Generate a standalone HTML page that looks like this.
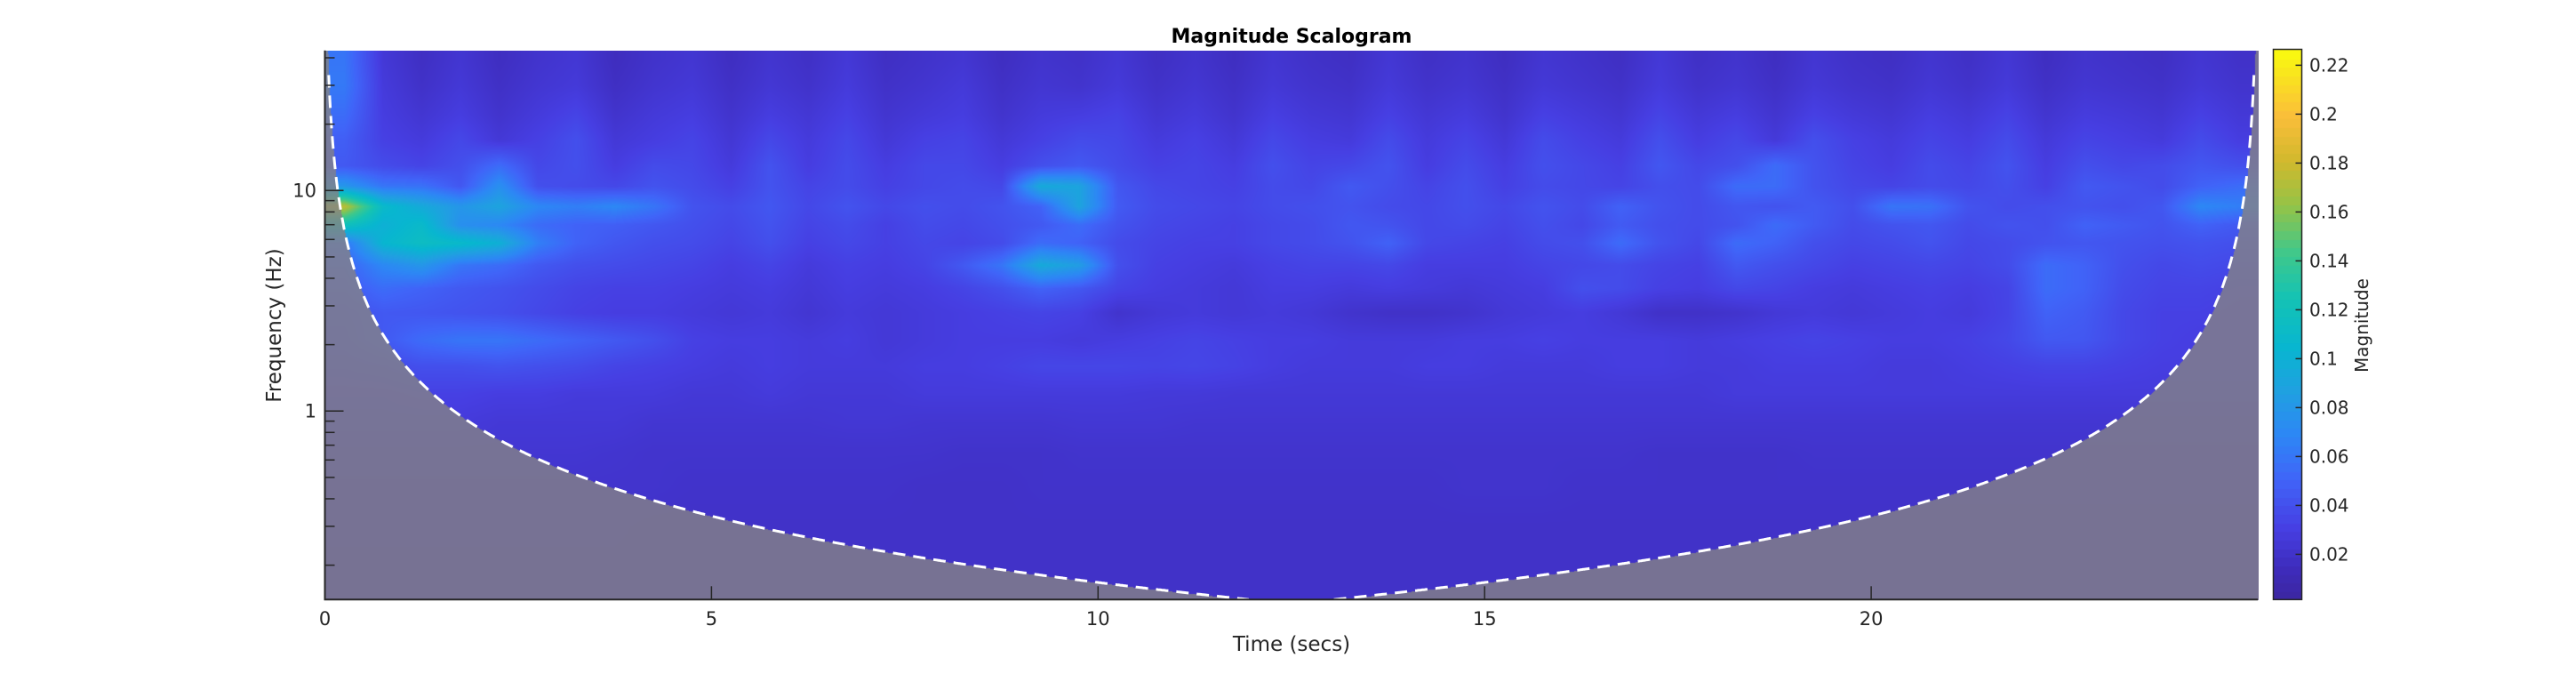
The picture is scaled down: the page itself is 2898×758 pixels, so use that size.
<!DOCTYPE html>
<html><head><meta charset="utf-8">
<style>
html,body{margin:0;padding:0;background:#fff;}
#wrap{position:relative;width:2898px;height:758px;overflow:hidden;font-family:"DejaVu Sans","Liberation Sans",sans-serif;}
canvas{position:absolute;}
svg{position:absolute;left:0;top:0;}
</style></head>
<body>
<div id="wrap">
<canvas id="heat"></canvas>
<canvas id="cbar"></canvas>
<svg id="ov" width="2898" height="758"></svg>
</div>
<script>
// ---- data (magnitude in thousandths) ----
const times = [0.25,0.75,1.25,1.75,2.25,2.75,3.25,3.75,4.25,4.75,5.25,5.75,6.25,6.75,7.25,7.75,8.25,8.75,9.25,9.75,10.25,10.75,11.25,11.75,12.25,12.75,13.25,13.75,14.25,14.75,15.25,15.75,16.25,16.75,17.25,17.75,18.25,18.75,19.25,19.75,20.25,20.75,21.25,21.75,22.25,22.75,23.25,23.75,24.25,24.75];
const freqs = [40,30,22,17,13,10.5,8.5,7,5.8,4.6,3.6,2.8,2.1,1.6,1.2,0.9,0.65,0.45,0.3,0.18];
const mag = [
[60,26,18,24,17,22,25,16,21,24,17,23,19,26,18,21,24,17,22,20,25,18,22,17,24,20,18,25,19,22,17,24,21,18,26,19,22,17,24,20,18,23,19,25,17,22,20,18,24,20],
[62,28,20,26,19,24,27,18,23,26,19,25,21,28,20,23,27,19,24,22,27,20,24,19,26,22,20,27,21,24,19,26,23,20,28,21,24,19,26,22,20,25,21,27,19,24,22,20,26,22],
[55,30,24,30,22,28,34,22,27,30,22,30,25,32,23,27,30,22,28,30,33,24,28,22,31,26,24,32,25,29,22,32,28,24,34,26,30,23,32,27,24,30,26,33,23,29,27,24,32,26],
[48,32,28,36,26,32,40,26,30,34,25,36,28,36,26,32,34,26,32,38,36,28,32,26,36,30,28,38,28,34,26,38,32,28,40,30,36,27,40,32,28,34,30,38,27,34,31,28,38,30],
[45,38,34,40,55,36,40,30,38,36,28,42,30,38,30,36,36,30,40,45,38,32,34,30,40,34,36,42,30,38,30,40,36,32,44,36,40,55,42,34,30,38,34,42,30,40,36,38,44,40],
[80,60,58,44,75,40,38,36,42,38,32,42,34,38,32,36,38,36,95,90,44,36,34,32,38,36,45,40,34,40,32,38,36,34,40,38,55,55,42,36,34,38,36,40,32,45,42,38,50,55],
[175,110,95,80,90,70,65,70,60,42,38,44,36,42,36,40,38,42,50,90,46,38,36,34,38,40,42,38,36,40,36,42,38,50,42,38,44,42,46,40,60,58,42,38,40,42,40,44,70,65],
[120,100,110,75,70,55,50,48,44,40,36,42,34,38,32,38,36,40,45,55,42,36,34,32,36,38,44,42,36,38,34,40,36,46,40,38,42,55,46,38,42,44,38,42,40,50,46,42,50,45],
[60,105,115,110,100,65,50,44,40,38,34,40,32,36,32,36,34,38,55,50,38,34,32,32,36,38,42,50,36,34,32,38,40,55,42,36,55,50,40,36,38,42,36,38,42,44,42,40,42,40],
[50,70,80,60,55,45,40,38,36,34,30,34,28,32,30,34,45,60,95,85,40,32,30,28,32,34,34,36,30,30,30,34,36,38,34,32,45,40,36,32,34,36,34,38,55,50,40,36,38,36],
[45,55,50,45,42,38,34,32,32,30,28,30,26,30,28,30,34,40,50,44,34,30,28,26,30,30,28,30,28,26,28,30,40,38,32,30,36,34,30,28,30,32,30,34,55,50,38,34,34,32],
[40,45,44,42,40,36,32,30,30,28,26,28,24,28,26,28,30,32,34,32,22,26,28,26,28,26,22,20,20,22,26,28,30,26,20,20,22,26,28,26,28,30,28,34,50,46,36,32,32,30],
[38,45,55,60,60,55,50,45,40,32,30,30,28,30,26,28,30,30,30,28,30,32,34,32,30,30,28,28,28,30,30,32,30,30,30,28,30,32,34,32,30,30,32,36,45,44,36,32,30,30],
[34,36,40,40,42,40,38,34,32,30,28,30,28,28,28,30,30,32,35,35,35,34,35,33,30,28,28,28,30,30,28,28,28,30,30,28,28,30,30,30,28,28,30,32,34,34,32,30,30,30],
[30,30,32,32,30,30,28,28,28,26,26,28,26,26,26,28,28,28,28,28,28,27,27,26,26,26,26,26,26,26,26,26,26,26,26,26,28,28,28,28,28,28,28,28,28,28,28,28,28,28],
[28,28,28,28,26,26,26,26,24,24,24,24,24,25,25,24,24,24,24,25,25,25,24,24,24,24,24,24,24,24,24,24,24,24,24,24,24,24,24,24,24,24,24,24,24,24,24,24,24,24],
[24,24,24,24,24,24,24,23,22,22,22,22,22,22,22,22,21,21,21,22,22,22,22,22,22,22,22,22,22,22,22,22,22,22,21,21,21,21,22,22,22,22,22,22,22,22,22,22,22,22],
[22,22,22,22,22,22,22,22,22,21,21,21,21,21,21,20,20,20,21,21,21,21,21,21,21,21,21,21,21,22,22,22,21,21,21,21,21,21,21,21,21,21,21,21,21,21,21,21,21,21],
[21,21,21,21,21,21,21,21,20,20,20,20,20,20,20,20,20,20,20,20,20,20,20,20,20,20,20,20,20,20,20,20,20,20,20,20,20,20,20,20,20,20,20,20,20,20,20,20,20,20],
[20,20,20,20,20,20,20,20,20,20,20,20,20,20,20,20,20,20,20,20,20,20,20,20,20,20,20,20,20,20,20,20,20,20,20,20,20,20,20,20,20,20,20,20,20,20,20,20,20,20]
];
const xTicks = [0,5,10,15,20];
const yTickVals = [1,10];
const yTickLabels = ["1","10"];
const cbTicks = [0.02,0.04,0.06,0.08,0.1,0.12,0.14,0.16,0.18,0.2,0.22];
const coiConst = [1.67];

// ---- layout ----
const L=365.5,R=2540,T=56.7,B=674.3;
const tMin=0,tMax=25, lfMax=1.6355, lfMin=-0.855;
const cMin=0.0015,cMax=0.2265;
const CB={x:2557.5,w:32,top:55.5,bot:674.3};
function X(t){return L+(t-tMin)/(tMax-tMin)*(R-L);}
function Y(f){return T+(lfMax-Math.log10(f))/(lfMax-lfMin)*(B-T);}
function CY(v){return CB.bot-(v-cMin)/(cMax-cMin)*(CB.bot-CB.top);}

const stops=[[0,[60,38,160]],[0.06,[62,44,188]],[0.13,[70,62,226]],[0.22,[64,100,248]],[0.3,[45,135,245]],[0.38,[32,160,225]],[0.46,[8,182,208]],[0.55,[20,195,180]],[0.63,[62,200,140]],[0.72,[150,195,70]],[0.8,[210,185,45]],[0.88,[250,190,58]],[1,[249,251,14]]];
function cmap(u){u=Math.max(0,Math.min(1,u));for(let i=1;i<stops.length;i++){if(u<=stops[i][0]){const a=stops[i-1],b=stops[i];const k=(u-a[0])/(b[0]-a[0]);return [0,1,2].map(j=>a[1][j]+(b[1][j]-a[1][j])*k);}}return stops[stops.length-1][1];}

// ---- heatmap ----
const hc=document.getElementById('heat');
const W=Math.round(R-L),H=Math.round(B-T);
hc.width=W;hc.height=H;hc.style.left=L+'px';hc.style.top=T+'px';
const ctx=hc.getContext('2d');const img=ctx.createImageData(W,H);
const lf=freqs.map(f=>Math.log10(f));
function coiF(t){const d=Math.min(t,tMax-t);return d<=0?1e9:coiConst[0]/d;}
for(let py=0;py<H;py++){
  const l=lfMax-(py+0.5)/H*(lfMax-lfMin);
  let r0,r1,ky;
  if(l>=lf[0]){r0=r1=0;ky=0;}else if(l<=lf[lf.length-1]){r0=r1=lf.length-1;ky=0;}
  else{for(let i=0;i<lf.length-1;i++){if(l<=lf[i]&&l>=lf[i+1]){r0=i;r1=i+1;ky=(lf[i]-l)/(lf[i]-lf[i+1]);break;}}}
  const fHz=Math.pow(10,l);
  for(let px=0;px<W;px++){
    const t=tMin+(px+0.5)/W*(tMax-tMin);
    let c0,c1,kx;
    if(t<=times[0]){c0=c1=0;kx=0;}else if(t>=times[times.length-1]){c0=c1=times.length-1;kx=0;}
    else{c0=Math.floor((t-times[0])/(times[1]-times[0]));c1=c0+1;kx=(t-times[c0])/(times[c1]-times[c0]);}
    const v=((mag[r0][c0]*(1-kx)+mag[r0][c1]*kx)*(1-ky)+(mag[r1][c0]*(1-kx)+mag[r1][c1]*kx)*ky)/1000;
    let col=cmap((v-cMin)/(cMax-cMin));
    if(fHz<coiF(t)){col=[0.2*col[0]+0.8*132,0.2*col[1]+0.8*130,0.2*col[2]+0.8*134];}
    const o=(py*W+px)*4;img.data[o]=col[0];img.data[o+1]=col[1];img.data[o+2]=col[2];img.data[o+3]=255;
  }
}
ctx.putImageData(img,0,0);

// ---- colorbar ----
const cc=document.getElementById('cbar');
const CH=Math.round(CB.bot-CB.top);
cc.width=CB.w;cc.height=CH;cc.style.left=CB.x+'px';cc.style.top=CB.top+'px';
const cx=cc.getContext('2d');
for(let i=0;i<64;i++){const col=cmap((i+0.5)/64);cx.fillStyle='rgb('+col.map(Math.round).join(',')+')';const y0=CH-(i+1)*CH/64;cx.fillRect(0,Math.floor(y0),CB.w,Math.ceil(CH/64)+1);}

// ---- svg overlay ----
const NS='http://www.w3.org/2000/svg';const svg=document.getElementById('ov');
function el(tag,attrs,parent){const e=document.createElementNS(NS,tag);for(const k in attrs)e.setAttribute(k,attrs[k]);(parent||svg).appendChild(e);return e;}
const left=[],right=[];
for(let i=0;i<=2000;i++){const t=tMin+i/2000*(tMax-tMin);const f=coiF(t);if(f>1e6)continue;const y=Y(f);if(y<T||y>B)continue;(t<tMax/2?left:right).push(X(t).toFixed(1)+','+y.toFixed(1));}
const coiL=el('polyline',{points:left.join(' '),fill:'none',stroke:'#fff','stroke-width':3,'stroke-dasharray':'14,9'});


const coiR=el('polyline',{points:right.join(' '),fill:'none',stroke:'#fff','stroke-width':3,'stroke-dasharray':'14,9'});


const ax=el('path',{d:`M${L},${T} L${L},${B} L${R},${B}`,fill:'none',stroke:'#262626','stroke-width':2});


xTicks.forEach(v=>{const x=X(v);
  const tk=el('line',{x1:x,y1:B,x2:x,y2:B-15,stroke:'#262626','stroke-width':1.5});
  
  
  const tx=el('text',{x:x,y:703,'text-anchor':'middle','font-size':21,fill:'#262626'});tx.textContent=String(v);
  
  
});
yTickVals.forEach((v,i)=>{const y=Y(v);
  const tk=el('line',{x1:L,y1:y,x2:L+21,y2:y,stroke:'#262626','stroke-width':1.5});
  
  
  const tx=el('text',{x:356,y:y+7,'text-anchor':'end','font-size':21,fill:'#262626'});tx.textContent=yTickLabels[i];
  
  
});
[0.2,0.3,0.4,0.5,0.6,0.7,0.8,0.9,2,3,4,5,6,7,8,9,20,30,40].forEach(v=>{const y=Y(v);if(y<T||y>B)return;
  const tk=el('line',{x1:L,y1:y,x2:L+11,y2:y,stroke:'#262626','stroke-width':1.5});
  
  
});
const cf=el('rect',{x:CB.x,y:CB.top,width:CB.w,height:CB.bot-CB.top,fill:'none',stroke:'#262626','stroke-width':1.5});


cbTicks.forEach(v=>{const y=CY(v);
  const tk=el('line',{x1:CB.x+CB.w-7,y1:y,x2:CB.x+CB.w,y2:y,stroke:'#262626','stroke-width':1.5});
  
  
  const tx=el('text',{x:2598,y:y+7,'font-size':20,fill:'#262626'});tx.textContent=String(v);
  
  
});
const title=el('text',{x:1453,y:48,'text-anchor':'middle','font-size':22,'font-weight':'bold',fill:'#000'});title.textContent='Magnitude Scalogram';


const xl=el('text',{x:1453,y:732,'text-anchor':'middle','font-size':23,fill:'#262626'});xl.textContent='Time (secs)';


const yl=el('text',{x:0,y:0,'text-anchor':'middle','font-size':23,fill:'#262626',transform:'translate(316,366) rotate(-90)'});yl.textContent='Frequency (Hz)';


const cl=el('text',{x:0,y:0,'text-anchor':'middle','font-size':20,fill:'#262626',transform:'translate(2664,366) rotate(-90)'});cl.textContent='Magnitude';


</script>
</body></html>
